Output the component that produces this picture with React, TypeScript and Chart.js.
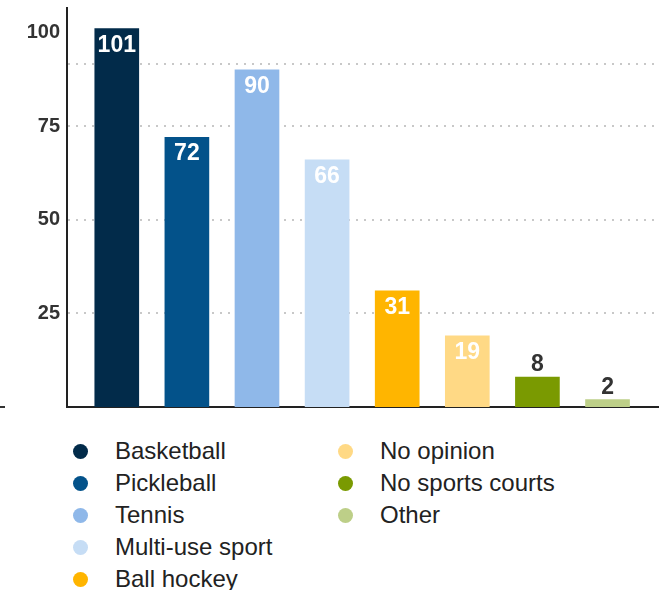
import React, { useEffect, useRef } from 'react';
import { Chart, registerables } from 'chart.js';

Chart.register(...registerables);

const categories = [
  'Basketball',
  'Pickleball',
  'Tennis',
  'Multi-use sport',
  'Ball hockey',
  'No opinion',
  'No sports courts',
  'Other',
];
const values = [101, 72, 90, 66, 31, 19, 8, 2];
const colors = [
  '#022b4a',
  '#03528a',
  '#8fb8e9',
  '#c6ddf5',
  '#ffb500',
  '#ffd985',
  '#7a9a01',
  '#bdcf88',
];
const yTickValues = [25, 50, 75, 100];
const referenceLineValue = 91.6;

const FONT = '"Liberation Sans", Arial, Helvetica, sans-serif';

const barLabelPlugin = {
  id: 'barLabels',
  afterDatasetsDraw(chart: any) {
    const ctx = chart.ctx;
    const meta = chart.getDatasetMeta(0);
    ctx.save();
    ctx.font = `bold 23px ${FONT}`;
    ctx.textAlign = 'center';
    ctx.textBaseline = 'alphabetic';
    meta.data.forEach((el: any, i: number) => {
      const v = values[i];
      if (v >= 15) {
        ctx.fillStyle = '#ffffff';
        ctx.fillText(String(v), el.x, el.y + 23);
      } else {
        ctx.fillStyle = '#333333';
        ctx.fillText(String(v), el.x, el.y - 6);
      }
    });
    ctx.restore();
  },
};

const stubPlugin = {
  id: 'stub',
  afterDraw(chart: any) {
    const ctx = chart.ctx;
    const y = chart.scales.y.getPixelForValue(0);
    ctx.save();
    ctx.strokeStyle = '#333333';
    ctx.lineWidth = 2;
    ctx.beginPath();
    ctx.moveTo(0, y);
    ctx.lineTo(5, y);
    ctx.stroke();
    ctx.restore();
  },
};

export default function App() {
  const canvasRef = useRef<HTMLCanvasElement | null>(null);

  useEffect(() => {
    if (!canvasRef.current) return;
    const chart = new Chart(canvasRef.current, {
      type: 'bar',
      data: {
        datasets: [
          {
            data: values.map((v, i) => ({ x: i, y: v })),
            backgroundColor: colors,
            borderWidth: 0,
            barThickness: 44,
          },
        ],
      },
      options: {
        animation: false,
        responsive: false,
        layout: { padding: { left: 0, top: 8, right: 6, bottom: 13 } },
        plugins: {
          legend: { display: false },
          tooltip: { enabled: false },
        },
        scales: {
          x: {
            type: 'linear',
            offset: false,
            min: -0.71,
            max: 7.72,
            ticks: { display: false },
            grid: { display: false, offset: false },
            border: { display: true, color: '#222222', width: 2 },
            afterFit: (s: any) => {
              s.height = 0;
              s.paddingLeft = 0;
              s.paddingRight = 0;
            },
          },
          y: {
            type: 'linear',
            min: 0,
            max: 106.5,
            afterBuildTicks: (s: any) => {
              s.ticks = [...yTickValues, referenceLineValue]
                .sort((a, b) => a - b)
                .map((v) => ({ value: v }));
            },
            afterFit: (s: any) => {
              s.width = 67;
              s.paddingTop = 0;
              s.paddingBottom = 0;
            },
            ticks: {
              autoSkip: false,
              padding: 7,
              color: '#333333',
              font: { family: FONT, size: 20, weight: 'bold' },
              callback: (v: any) => (yTickValues.includes(v) ? String(v) : ''),
            },
            grid: {
              drawTicks: false,
              lineWidth: 2,
              color: (c: any) =>
                c.tick && c.tick.value === 100 ? 'rgba(0,0,0,0)' : '#c8c8c8',
            },
            border: { display: true, color: '#222222', width: 2, dash: [2, 6] },
          },
        },
      },
      plugins: [barLabelPlugin, stubPlugin],
    } as any);
    return () => chart.destroy();
  }, []);

  const col1 = categories.slice(0, 5).map((c, i) => ({ c, i }));
  const col2 = categories.slice(5).map((c, i) => ({ c, i: i + 5 }));

  const renderItem = (item: { c: string; i: number }, row: number, dotX: number, textX: number) => (
    <div
      key={item.c}
      style={{
        position: 'absolute',
        left: 0,
        top: 435 + row * 32,
        height: 32,
        width: 664,
      }}
    >
      <span
        style={{
          position: 'absolute',
          left: dotX - 7.5,
          top: 8.5,
          width: 15,
          height: 15,
          borderRadius: '50%',
          background: colors[item.i],
        }}
      />
      <span
        style={{
          position: 'absolute',
          left: textX,
          top: 0,
          lineHeight: '32px',
          fontSize: 24,
          fontFamily: FONT,
          color: '#222222',
          whiteSpace: 'nowrap',
        }}
      >
        {item.c}
      </span>
    </div>
  );

  return (
    <div
      style={{
        position: 'absolute',
        left: 0,
        top: 0,
        width: 664,
        height: 590,
        background: '#ffffff',
        overflow: 'hidden',
      }}
    >
      <canvas ref={canvasRef} width={664} height={420} style={{ display: 'block' }} />
      {col1.map((it, r) => renderItem(it, r, 80, 115))}
      {col2.map((it, r) => renderItem(it, r, 345, 380))}
    </div>
  );
}
